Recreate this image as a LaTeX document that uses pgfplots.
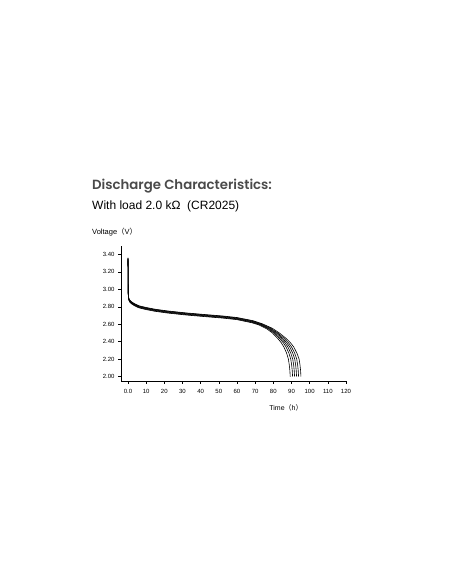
\documentclass[border=0pt]{standalone}
\usepackage{fontspec}
\setmainfont{Liberation Sans}
\newfontfamily\cjk{Noto Sans CJK SC}
\newfontfamily\titlefont{Poppins}[UprightFont=* SemiBold]
\usepackage{pgfplots}
\pgfplotsset{compat=1.18}
\definecolor{titlegray}{HTML}{4A4A4A}
\begin{document}
\begin{tikzpicture}[x=1pt,y=1pt]
\useasboundingbox (0,0) rectangle (452,584);
\node[anchor=west,inner sep=0pt,text=titlegray] at (92,398) {\titlefont\fontsize{13.3}{16}\selectfont Discharge Characteristics:};
\node[anchor=west,inner sep=0pt] at (92,378) {\fontsize{12}{14}\selectfont With load 2.0 kΩ\ \ (CR2025)};
\node[anchor=west,inner sep=0pt] at (92,352) {\fontsize{7.5}{9}\selectfont Voltage{\cjk （}V{\cjk ）}};
\node[anchor=center,inner sep=0pt] at (286,176.5) {\fontsize{7}{8}\selectfont Time{\cjk （}h{\cjk ）}};
\begin{axis}[
  at={(121pt,203pt)}, anchor=south west,
  scale only axis, width=225pt, height=135.3pt,
  xmin=-3.85, xmax=120, ymin=1.95, ymax=3.50,
  axis lines=left, axis line style={-, line width=0.5pt},
  tick align=outside, major tick length=3pt,
  tick style={line width=0.5pt, black},
  xtick={0,10,...,120},
  xticklabels={0.0,10,20,30,40,50,60,70,80,90,100,110,120},
  ytick={2.0,2.2,...,3.41},
  yticklabel style={/pgf/number format/.cd,fixed,fixed zerofill,precision=2},
  /pgf/number format/assume math mode=true,
  ticklabel style={font=\fontsize{6}{7}\selectfont},
  xticklabel style={yshift=-2pt},
  clip=false,
  every axis plot/.append style={black, no markers, line width=0.6pt, line join=round},
]
\addplot[black] coordinates {(0,3.36)(0.15,2.938)(0.4,2.878)(1,2.853)(2,2.833)(3.5,2.813)(6,2.788)(10,2.768)(15,2.748)(22,2.728)(32,2.706)(42,2.688)(52,2.671)(60,2.653)
 (68,2.618)(72,2.593)(76.5,2.546)(79.5,2.50)(82.3,2.44)(84.3,2.39)(85.8,2.34)(87.3,2.27)(88.3,2.20)(88.8,2.13)(89.1,2.07)(89.3,2.00)};
\addplot[black] coordinates {(0,3.35)(0.15,2.943)(0.4,2.883)(1,2.858)(2,2.838)(3.5,2.818)(6,2.793)(10,2.773)(15,2.753)(22,2.733)(32,2.711)(42,2.693)(52,2.676)(60,2.658)
 (68.13,2.623)(72.39,2.596)(77.15,2.548)(80.35,2.50)(83.31,2.44)(85.42,2.39)(87.0,2.34)(88.55,2.27)(89.6,2.20)(90.1,2.13)(90.4,2.07)(90.6,2.00)};
\addplot[black] coordinates {(0,3.34)(0.15,2.948)(0.4,2.888)(1,2.863)(2,2.843)(3.5,2.823)(6,2.798)(10,2.778)(15,2.758)(22,2.738)(32,2.716)(42,2.698)(52,2.681)(60,2.663)
 (68.24,2.628)(72.72,2.599)(77.7,2.549)(81.06,2.50)(84.17,2.44)(86.36,2.39)(88.01,2.34)(89.6,2.27)(90.7,2.20)(91.2,2.13)(91.5,2.07)(91.7,2.00)};
\addplot[black] coordinates {(0,3.33)(0.15,2.953)(0.4,2.893)(1,2.868)(2,2.848)(3.5,2.828)(6,2.803)(10,2.783)(15,2.763)(22,2.743)(32,2.721)(42,2.703)(52,2.686)(60,2.668)
 (68.35,2.633)(73.05,2.602)(78.25,2.551)(81.78,2.50)(85.03,2.44)(87.31,2.39)(89.02,2.34)(90.66,2.27)(91.8,2.20)(92.3,2.13)(92.6,2.07)(92.8,2.00)};
\addplot[black] coordinates {(0,3.36)(0.15,2.958)(0.4,2.898)(1,2.873)(2,2.853)(3.5,2.833)(6,2.808)(10,2.788)(15,2.768)(22,2.748)(32,2.726)(42,2.708)(52,2.691)(60,2.673)
 (68.46,2.638)(73.38,2.605)(78.8,2.552)(82.49,2.50)(85.89,2.44)(88.26,2.39)(90.03,2.34)(91.72,2.27)(92.9,2.20)(93.4,2.13)(93.7,2.07)(93.9,2.00)};
\addplot[black] coordinates {(0,3.35)(0.15,2.962)(0.4,2.902)(1,2.877)(2,2.857)(3.5,2.837)(6,2.812)(10,2.792)(15,2.772)(22,2.752)(32,2.730)(42,2.712)(52,2.695)(60,2.677)
 (68.59,2.642)(73.77,2.607)(79.45,2.554)(83.34,2.50)(86.9,2.44)(89.37,2.39)(91.23,2.34)(92.96,2.27)(94.2,2.20)(94.7,2.13)(95.0,2.07)(95.2,2.00)};
\end{axis}
\end{tikzpicture}
\end{document}
